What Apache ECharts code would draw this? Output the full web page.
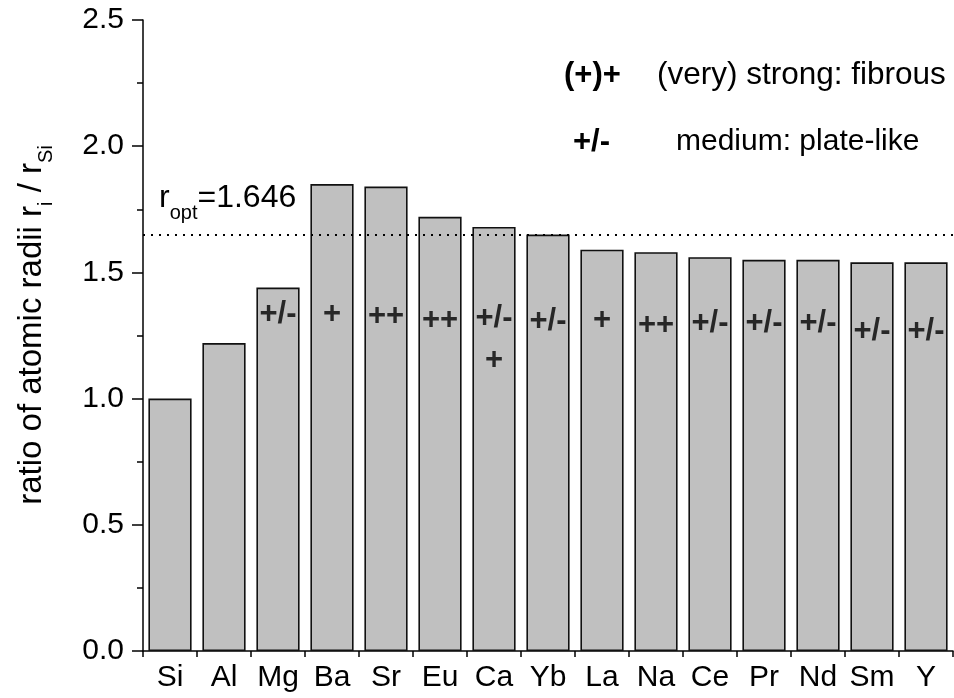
<!DOCTYPE html>
<html>
<head>
<meta charset="utf-8">
<script src="https://cdn.jsdelivr.net/npm/echarts@6/dist/echarts.min.js"></script>
<style>
  html, body { margin: 0; padding: 0; background: #fff; }
  #chart { width: 954px; height: 698px; }
</style>
</head>
<body>
<div id="chart"></div>
<script>
// Dopant elements and their atomic radius relative to silicon
const elements = ['Si', 'Al', 'Mg', 'Ba', 'Sr', 'Eu', 'Ca', 'Yb', 'La', 'Na', 'Ce', 'Pr', 'Nd', 'Sm', 'Y'];
const radiusRatio = [1.00, 1.22, 1.44, 1.85, 1.84, 1.72, 1.68, 1.65, 1.59, 1.58, 1.56, 1.55, 1.55, 1.54, 1.54];
// optimum radius ratio
const rOpt = 1.646;
// y-axis tick values
const yTicks = [0.0, 0.5, 1.0, 1.5, 2.0, 2.5];
// modification strength symbol written in each bar ('' = none)
const strength = ['', '', '+/-', '+', '++', '++', '+/-', '+/-', '+', '++', '+/-', '+/-', '+/-', '+/-', '+/-'];
// second symbol written below the first one
const strengthSecond = ['', '', '', '', '', '', '+', '', '', '', '', '', '', '', ''];
// legend entries: symbol, meaning
const legendSymbols = ['(+)+', '+/-'];
const legendTexts = ['(very) strong: fibrous', 'medium: plate-like'];

const FONT = '"Liberation Sans", Arial, Helvetica, sans-serif';

// vertical placement (in axis units) of the symbols inside the bars
const symbolLevel = [0, 0, 1.334, 1.334, 1.324, 1.308, 1.317, 1.304, 1.311, 1.291, 1.298, 1.298, 1.298, 1.267, 1.267];
const secondLevel = 1.152;

const symbolData = [];
strength.forEach((s, i) => {
  if (s) symbolData.push({ value: [elements[i], symbolLevel[i]], label: { formatter: s } });
  if (strengthSecond[i]) symbolData.push({ value: [elements[i], secondLevel], label: { formatter: strengthSecond[i] } });
});

const chart = echarts.init(document.getElementById('chart'), null, { renderer: 'canvas' });

const black = '#000';
// rich-text styles: main text raised by its bottom padding so the small text sits as a subscript
function subRich(size, drop) {
  return {
    m: { fontFamily: FONT, fontSize: size, color: black, verticalAlign: 'bottom', padding: [0, 0, drop, 0] },
    s: { fontFamily: FONT, fontSize: Math.round(size * 0.62), color: black, verticalAlign: 'bottom' }
  };
}

chart.setOption({
  animation: false,
  backgroundColor: '#fff',
  textStyle: { fontFamily: FONT },
  grid: { left: 143, right: 1, top: 20, bottom: 47 },
  xAxis: [
    {
      type: 'category',
      position: 'bottom',
      data: elements,
      boundaryGap: true,
      axisLine: { show: true, lineStyle: { color: black, width: 1.5 } },
      axisTick: { show: true, alignWithLabel: false, length: 6, lineStyle: { color: black, width: 1.5 } },
      axisLabel: { interval: 0, fontSize: 30, color: black, margin: 12, fontFamily: FONT },
      splitLine: { show: false }
    },
    {
      type: 'category',
      position: 'bottom',
      data: elements,
      boundaryGap: true,
      axisLine: { show: false },
      axisTick: { show: true, alignWithLabel: true, inside: true, length: 4, lineStyle: { color: black, width: 1.2 } },
      axisLabel: { show: false },
      splitLine: { show: false }
    }
  ],
  yAxis: {
    type: 'value',
    min: yTicks[0],
    max: yTicks[yTicks.length - 1],
    interval: yTicks[1] - yTicks[0],
    axisLine: { show: true, lineStyle: { color: black, width: 1.5 } },
    axisTick: { show: true, inside: false, length: 11, lineStyle: { color: black, width: 1.5 } },
    minorTick: { show: true, splitNumber: 2, length: 6, lineStyle: { color: black, width: 1.5 } },
    splitLine: { show: false },
    minorSplitLine: { show: false },
    axisLabel: {
      fontSize: 30, color: black, margin: 19, fontFamily: FONT,
      formatter: v => v.toFixed(1)
    }
  },
  series: [
    {
      type: 'bar',
      xAxisIndex: 0,
      data: radiusRatio,
      barCategoryGap: '20%',
      itemStyle: { color: '#c0c0c0', borderColor: '#111', borderWidth: 1.6 },
      markLine: {
        silent: true,
        symbol: 'none',
        label: { show: false },
        lineStyle: { color: black, width: 2, type: [2, 6] },
        data: [{ yAxis: rOpt }]
      }
    },
    {
      type: 'scatter',
      xAxisIndex: 0,
      data: symbolData,
      symbolSize: 1,
      itemStyle: { color: 'rgba(0,0,0,0)' },
      label: {
        show: true,
        position: 'inside',
        fontSize: 31,
        fontWeight: 'bold',
        color: black,
        fontFamily: FONT
      },
      z: 5
    }
  ],
  graphic: [
    // optimum ratio label
    {
      type: 'text',
      x: 159,
      y: 203,
      style: {
        text: '{m|r}{s|opt}{m|=' + rOpt.toFixed(3) + '}',
        rich: subRich(32, 9),
        align: 'left',
        verticalAlign: 'middle'
      }
    },
    // legend
    {
      type: 'text', x: 564, y: 75,
      style: { text: legendSymbols[0], font: 'bold 31px ' + FONT, fill: black, align: 'left', verticalAlign: 'middle' }
    },
    {
      type: 'text', x: 657, y: 75,
      style: { text: legendTexts[0], font: '31.5px ' + FONT, fill: black, align: 'left', verticalAlign: 'middle' }
    },
    {
      type: 'text', x: 573, y: 142,
      style: { text: legendSymbols[1], font: 'bold 31px ' + FONT, fill: black, align: 'left', verticalAlign: 'middle' }
    },
    {
      type: 'text', x: 676, y: 142,
      style: { text: legendTexts[1], font: '30px ' + FONT, fill: black, align: 'left', verticalAlign: 'middle' }
    },
    // y-axis title
    {
      type: 'text',
      x: 36,
      y: 325,
      rotation: Math.PI / 2,
      style: {
        text: '{m|ratio of atomic radii r}{s|i}{m| / r}{s|Si}',
        rich: subRich(33, 8),
        align: 'center',
        verticalAlign: 'middle'
      }
    }
  ]
});
</script>
</body>
</html>
